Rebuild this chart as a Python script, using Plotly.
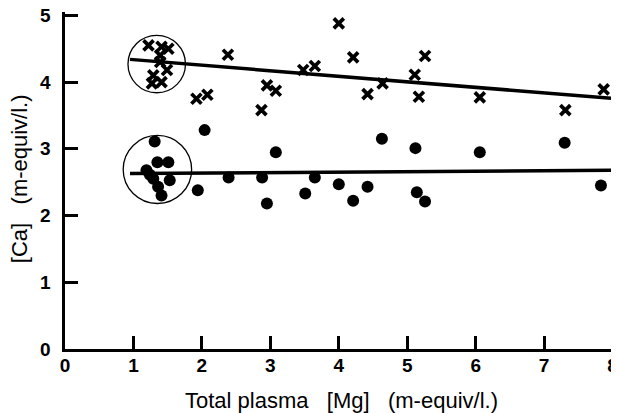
import plotly.graph_objects as go

# Cross markers (upper group)
cross_x = [2.38, 4.00, 4.21, 3.48, 3.65, 4.64, 4.42, 1.92, 2.08, 2.95, 3.08, 2.87,
           5.26, 5.11, 5.17, 6.06, 7.31, 7.87,
           1.22, 1.41, 1.51, 1.39, 1.49, 1.39, 1.29, 1.27, 1.41]
cross_y = [4.41, 4.88, 4.37, 4.18, 4.24, 3.98, 3.82, 3.75, 3.81, 3.95, 3.87, 3.58,
           4.39, 4.11, 3.78, 3.77, 3.58, 3.89,
           4.55, 4.53, 4.50, 4.40, 4.18, 4.30, 4.10, 3.98, 4.00]

# Filled dots (lower group)
dot_x = [2.04, 3.08, 4.63, 1.94, 2.39, 2.88, 2.95, 3.51, 3.65, 4.00, 4.21, 4.42,
         5.12, 6.06, 7.30, 5.14, 5.26, 7.83,
         1.31, 1.35, 1.51, 1.19, 1.29, 1.53, 1.36, 1.41, 1.24]
dot_y = [3.28, 2.95, 3.15, 2.38, 2.57, 2.57, 2.18, 2.33, 2.57, 2.47, 2.22, 2.43,
         3.01, 2.95, 3.09, 2.35, 2.21, 2.45,
         3.11, 2.80, 2.80, 2.68, 2.55, 2.53, 2.43, 2.30, 2.61]

# Regression lines
fit_x = [0.95, 8.06]
upper_fit_y = [4.34, 3.75]
lower_fit_y = [2.63, 2.68]

# Circled clusters (centre x, centre y, radius x, radius y)
circle_upper = (1.34, 4.27, 0.42, 0.43)
circle_lower = (1.35, 2.69, 0.50, 0.51)

x_ticks = [0, 1, 2, 3, 4, 5, 6, 7, 8]
y_ticks = [0, 1, 2, 3, 4, 5]
x_title = "Total plasma   [Mg]   (m-equiv/l.)"
y_title = "[Ca]   (m-equiv/l.)"

fig = go.Figure()
fig.add_trace(go.Scatter(x=fit_x, y=upper_fit_y, mode="lines",
                         line=dict(color="black", width=3.5), showlegend=False))
fig.add_trace(go.Scatter(x=fit_x, y=lower_fit_y, mode="lines",
                         line=dict(color="black", width=3.5), showlegend=False))
fig.add_trace(go.Scatter(x=cross_x, y=cross_y, mode="markers",
                         marker=dict(symbol="x-thin", size=10, color="black",
                                     line=dict(color="black", width=3.7)),
                         showlegend=False))
fig.add_trace(go.Scatter(x=dot_x, y=dot_y, mode="markers",
                         marker=dict(symbol="circle", size=12, color="black"),
                         showlegend=False))

for cx, cy, rx, ry in (circle_upper, circle_lower):
    fig.add_shape(type="circle", xref="x", yref="y",
                  x0=cx - rx, x1=cx + rx, y0=cy - ry, y1=cy + ry,
                  line=dict(color="black", width=1.3))

tickfont = dict(family="Liberation Sans, Arial, sans-serif", size=19,
                color="black", weight="bold")
titlefont = dict(family="Liberation Sans, Arial, sans-serif", size=22,
                 color="black")

annotations = [
    dict(text=x_title, xref="paper", yref="paper", x=0.501, y=-0.154,
         xanchor="center", yanchor="middle", showarrow=False, font=titlefont),
    dict(text=y_title, xref="paper", yref="paper", x=-0.0835, y=0.507,
         xanchor="center", yanchor="middle", showarrow=False, font=titlefont,
         textangle=-90),
]
# y tick labels placed on the y scale, just left of the axis line
for v in y_ticks:
    annotations.append(dict(text=str(v), xref="paper", yref="y", x=-0.0218, y=v,
                            xanchor="right", yanchor="middle", showarrow=False,
                            font=tickfont))

# The page body adds an 8 px offset, so the figure is sized to fit the window.
fig.update_layout(
    width=611, height=405,
    margin=dict(l=57, r=3, t=4, b=64, autoexpand=False),
    paper_bgcolor="white", plot_bgcolor="white",
    xaxis=dict(range=[0, 8.05], tickvals=x_ticks, ticktext=[str(v) for v in x_ticks],
               automargin=False,
               showgrid=False, zeroline=False, showline=True, linecolor="black",
               linewidth=3, ticks="inside", ticklen=13, tickwidth=2.5,
               tickcolor="black", tickfont=tickfont, ticklabelstandoff=-3),
    yaxis=dict(range=[0, 5.05], tickvals=y_ticks, showticklabels=False,
               automargin=False,
               showgrid=False, zeroline=False, showline=True, linecolor="black",
               linewidth=3, ticks="inside", ticklen=13, tickwidth=2.5,
               tickcolor="black"),
    annotations=annotations,
)

fig.write_html("out.html")
